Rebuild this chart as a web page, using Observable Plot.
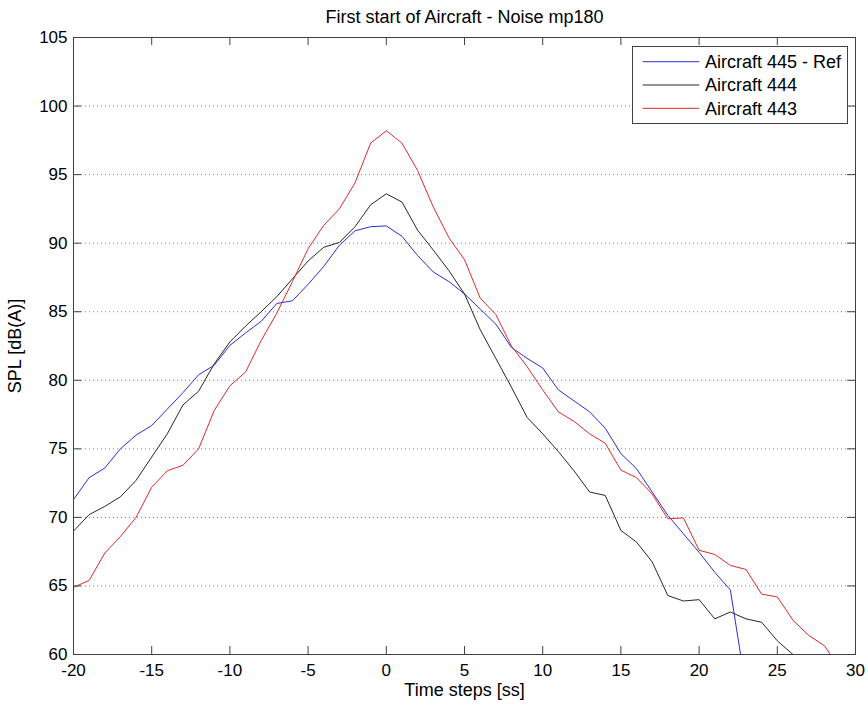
<!DOCTYPE html>
<html><head><meta charset="utf-8">
<script src="https://cdn.jsdelivr.net/npm/d3@7"></script>
<script src="https://cdn.jsdelivr.net/npm/@observablehq/plot@0.6"></script>
<style>
body{margin:0;background:#fff;}
#wrap{position:relative;width:868px;height:706px;font-family:"Liberation Sans",Arial,sans-serif;}
#wrap svg{display:block;}
#legend{position:absolute;left:0;top:0;pointer-events:none;}
</style></head><body><div id="wrap"></div>
<script>
const title = "First start of Aircraft - Noise mp180";
const xLabel = "Time steps [ss]";
const yLabel = "SPL [dB(A)]";
const timeSteps = [-20,-19,-18,-17,-16,-15,-14,-13,-12,-11,-10,-9,-8,-7,-6,-5,-4,-3,-2,-1,0,1,2,3,4,5,6,7,8,9,10,11,12,13,14,15,16,17,18,19,20,21,22,23,24,25,26,27,28,29];
const ref445 = [71.3,72.9,73.6,75.0,76.0,76.7,77.9,79.1,80.4,81.1,
  82.55,83.45,84.3,85.6,85.8,87.0,88.3,89.85,90.9,91.2,
  91.26,90.5,89.1,87.9,87.2,86.3,85.2,84.1,82.4,81.6,
  80.9,79.3,78.5,77.7,76.5,74.65,73.55,71.85,70.15,68.8,
  67.45,66.0,64.7,57.5];
const ac444 = [69.0,70.2,70.8,71.5,72.7,74.4,76.1,78.2,79.2,81.2,
  82.8,83.95,85.0,86.1,87.4,88.7,89.7,90.05,91.2,92.8,
  93.6,93.0,90.95,89.5,88.0,86.3,83.7,81.6,79.5,77.3,
  76.1,74.8,73.4,71.85,71.6,69.05,68.2,66.75,64.3,63.9,
  64.0,62.6,63.1,62.6,62.35,61.0,60.0,59.0];
const ac443 = [64.9,65.4,67.4,68.6,70.0,72.2,73.4,73.8,75.0,77.8,
  79.6,80.6,82.9,84.9,87.2,89.6,91.3,92.5,94.4,97.3,
  98.2,97.3,95.3,92.65,90.4,88.8,86.0,84.8,82.5,81.0,
  79.3,77.7,77.0,76.1,75.4,73.45,72.9,71.7,69.9,69.96,
  67.6,67.3,66.5,66.2,64.4,64.2,62.5,61.4,60.65,59.0];
const seriesNames = ["Aircraft 445 - Ref","Aircraft 444","Aircraft 443"];
const seriesValues = [ref445, ac444, ac443];
const seriesColors = ["#2d2dd8","#262626","#e22a2a"];
const xTicks = [-20,-15,-10,-5,0,5,10,15,20,25,30];
const yTicks = [60,65,70,75,80,85,90,95,100,105];

const W = 868, H = 706, mL = 73, mR = 13, mT = 37, mB = 52;
const frameW = W - mL - mR, frameH = H - mT - mB, tick = 8;
const axisColor = "#404040";

const lineMarks = seriesValues.map((vals, i) =>
  Plot.line(vals.map((v, j) => ({t: timeSteps[j], v})), {x: "t", y: "v", stroke: seriesColors[i], strokeWidth: 1, clip: true})
);

const chart = Plot.plot({
  width: W, height: H,
  marginLeft: mL, marginRight: mR, marginTop: mT, marginBottom: mB,
  style: {fontFamily: '"Liberation Sans", Arial, sans-serif', background: "#fff", color: "#000"},
  x: {domain: [-20, 30]},
  y: {domain: [60, 105]},
  marks: [
    Plot.gridY(yTicks.slice(1, -1), {stroke: "#808080", strokeOpacity: 1, strokeDasharray: "1,3"}),
    ...lineMarks,
    Plot.frame({stroke: axisColor}),
    Plot.ruleX(xTicks, {x: d => d, stroke: axisColor, insetTop: frameH - tick}),
    Plot.ruleX(xTicks, {x: d => d, stroke: axisColor, insetBottom: frameH - tick}),
    Plot.ruleY(yTicks, {y: d => d, stroke: axisColor, insetRight: frameW - tick}),
    Plot.ruleY(yTicks, {y: d => d, stroke: axisColor, insetLeft: frameW - tick}),
    Plot.axisX(xTicks, {anchor: "bottom", tickSize: 0, tickPadding: 9, tickFormat: d => String(d), fontSize: 17, label: null}),
    Plot.axisY(yTicks, {anchor: "left", tickSize: 0, tickPadding: 6, tickFormat: d => String(d), fontSize: 17, label: null}),
    Plot.text([title], {text: d => d, frameAnchor: "top", dy: -20, fontSize: 18, lineAnchor: "middle"}),
    Plot.text([xLabel], {text: d => d, frameAnchor: "bottom", dy: 36, fontSize: 18, lineAnchor: "middle"}),
    Plot.text([yLabel], {text: d => d, frameAnchor: "left", dx: -58, rotate: -90, fontSize: 18, lineAnchor: "middle", textAnchor: "middle"})
  ]
});
const wrap = document.getElementById("wrap");
wrap.appendChild(chart);

// legend box (MATLAB style), drawn inside the plot area at the top right
const ns = "http://www.w3.org/2000/svg";
const leg = document.createElementNS(ns, "svg");
leg.setAttribute("id", "legend");
leg.setAttribute("width", W); leg.setAttribute("height", H);
const box = {x: 632.5, y: 46.5, w: 215, h: 77};
const rect = document.createElementNS(ns, "rect");
rect.setAttribute("x", box.x); rect.setAttribute("y", box.y);
rect.setAttribute("width", box.w); rect.setAttribute("height", box.h);
rect.setAttribute("fill", "#fff"); rect.setAttribute("stroke", axisColor);
leg.appendChild(rect);
seriesNames.forEach((name, i) => {
  const cy = 61.7 + i * 23.3;
  const ln = document.createElementNS(ns, "line");
  ln.setAttribute("x1", 642.7); ln.setAttribute("x2", 699.3);
  ln.setAttribute("y1", cy); ln.setAttribute("y2", cy);
  ln.setAttribute("stroke", seriesColors[i]); ln.setAttribute("stroke-width", 1);
  leg.appendChild(ln);
  const tx = document.createElementNS(ns, "text");
  tx.setAttribute("x", 705); tx.setAttribute("y", cy + 6.3);
  tx.setAttribute("font-size", 18);
  tx.setAttribute("font-family", '"Liberation Sans", Arial, sans-serif');
  tx.textContent = name;
  leg.appendChild(tx);
});
wrap.appendChild(leg);
</script></body></html>
